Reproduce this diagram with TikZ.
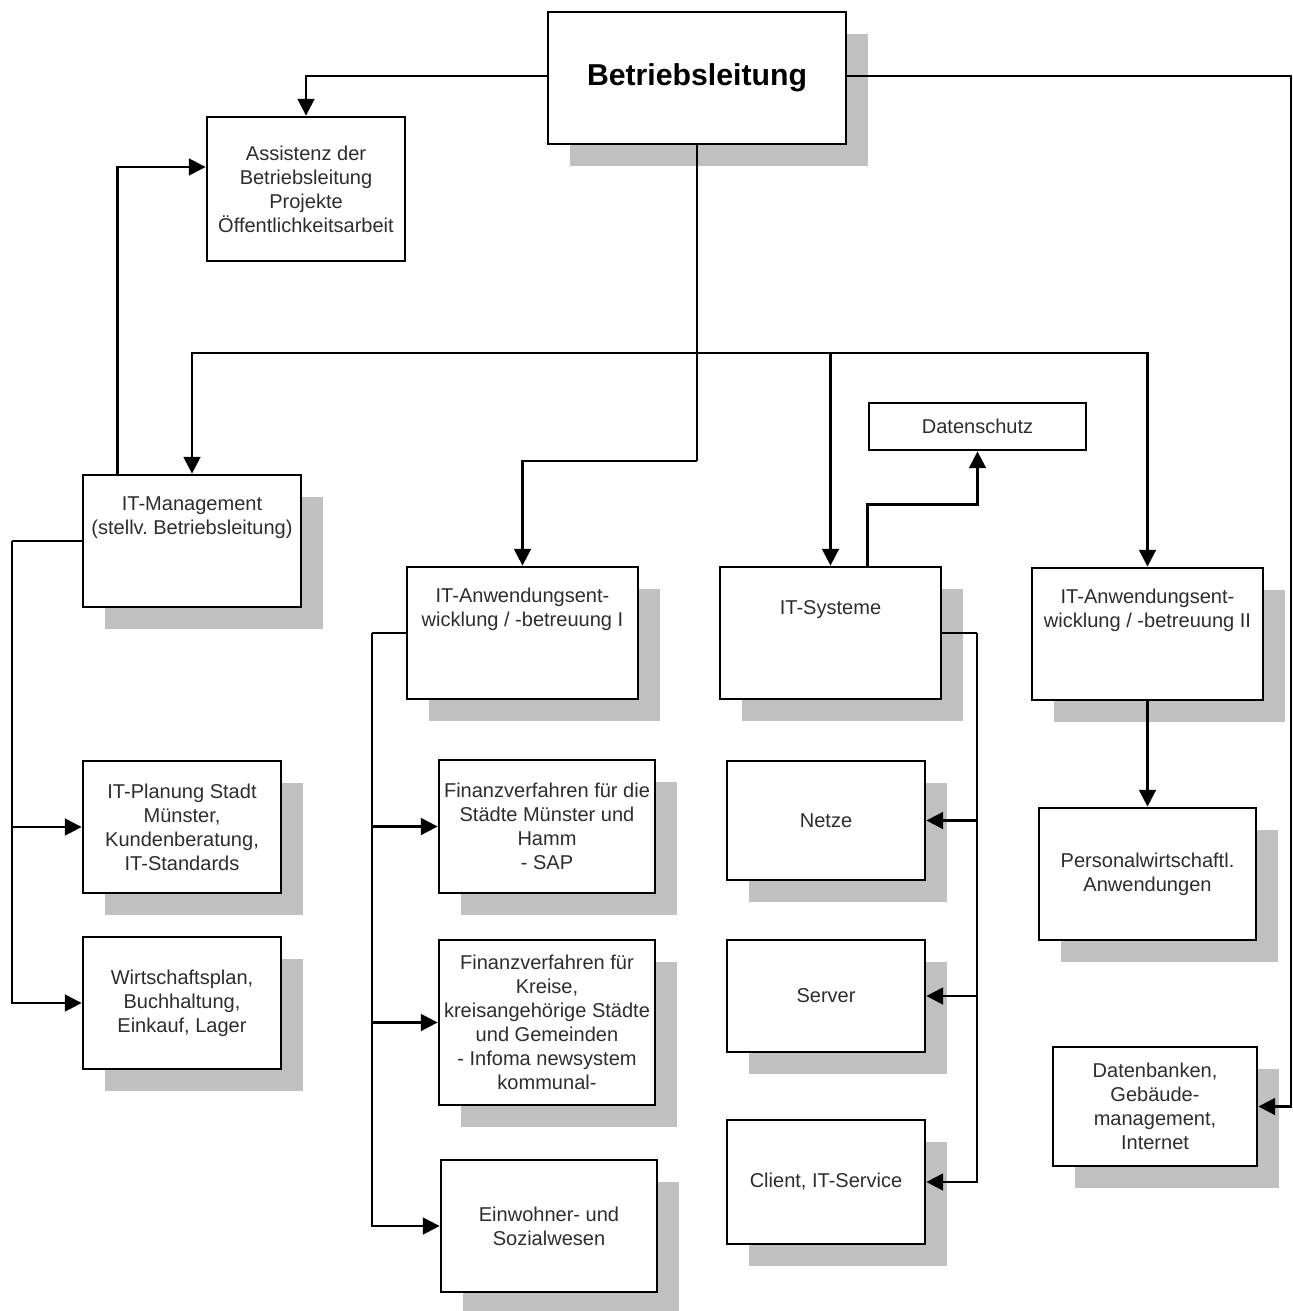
\documentclass[tikz,border=0pt]{standalone}
\usepackage{fontspec}
\setmainfont{Liberation Sans}
\frenchspacing
\usetikzlibrary{arrows.meta, positioning, calc, shadows}
\definecolor{shadowgray}{RGB}{192, 192, 192}
\definecolor{textgray}{RGB}{45, 45, 45}
\tikzset{
  unit/.style={draw, line width=1.6pt, fill=white, align=center, text=textgray, font=\fontsize{11.4}{13.7}\selectfont, inner sep=2pt},
  shadowunit/.style={unit, drop shadow={shadow xshift=0.44cm, shadow yshift=-0.44cm, fill=shadowgray, opacity=1}},
  toplabel/.style={below=0.33cm, align=center, text=textgray, font=\fontsize{11.4}{13.7}\selectfont},
  conn/.style={line width=1.4pt},
  carrow/.style={conn, -{Triangle[length=9.5pt, width=9.5pt]}},
}

\begin{document}
\begin{tikzpicture}[x=0.02cm, y=-0.02cm]
  \useasboundingbox (0,0) rectangle (1293,1311);
  % top level
  \node[shadowunit, minimum width=5.96cm, minimum height=2.64cm, font=\fontsize{17.2}{20}\selectfont\bfseries, text=black] (bl) at (697,78) {Betriebsleitung};
  \node[unit, minimum width=3.96cm, minimum height=2.88cm] (ass) at (306,189) {Assistenz der\\Betriebsleitung\\Projekte\\Öffentlichkeitsarbeit};
  % departments
  \node[shadowunit, minimum width=4.36cm, minimum height=2.64cm, label={[toplabel]north:{IT-Management\\(stellv. Betriebsleitung)}}] (itm) at (192,541) {};
  \node[shadowunit, minimum width=4.62cm, minimum height=2.64cm, label={[toplabel]north:{IT-Anwendungsent-\\wicklung / -betreuung I}}] (anw1) at (522.5,633) {};
  \node[shadowunit, minimum width=4.42cm, minimum height=2.64cm, label={[toplabel, below=0.58cm]north:{IT-Systeme}}] (sys) at (830.5,633) {};
  \node[shadowunit, minimum width=4.62cm, minimum height=2.64cm, label={[toplabel]north:{IT-Anwendungsent-\\wicklung / -betreuung II}}] (anw2) at (1147.5,634) {};
  \node[unit, minimum width=4.34cm, minimum height=0.94cm] (ds) at (977.5,426.5) {Datenschutz};
  % IT-Management
  \node[shadowunit, minimum width=3.96cm, minimum height=2.64cm] (plan) at (182,827) {IT-Planung Stadt\\Münster,\\Kundenberatung,\\IT-Standards};
  \node[shadowunit, minimum width=3.96cm, minimum height=2.64cm] (wp) at (182,1003) {Wirtschaftsplan,\\Buchhaltung,\\Einkauf, Lager};
  % Anwendungen I
  \node[shadowunit, minimum width=4.32cm, minimum height=2.66cm] (finm) at (547,826.5) {Finanzverfahren für die\\Städte Münster und\\Hamm\\- SAP};
  \node[shadowunit, minimum width=4.32cm, minimum height=3.3cm] (fink) at (547,1022.5) {Finanzverfahren für\\Kreise,\\kreisangehörige Städte\\und Gemeinden\\- Infoma newsystem\\kommunal-};
  \node[shadowunit, minimum width=4.32cm, minimum height=2.64cm] (ew) at (549,1226) {Einwohner- und\\Sozialwesen};
  % Systeme
  \node[shadowunit, minimum width=3.96cm, minimum height=2.38cm] (net) at (826,820.5) {Netze};
  \node[shadowunit, minimum width=3.96cm, minimum height=2.24cm] (srv) at (826,996) {Server};
  \node[shadowunit, minimum width=3.96cm, minimum height=2.48cm] (cl) at (826,1182) {Client, IT-Service};
  % Anwendungen II
  \node[shadowunit, minimum width=4.34cm, minimum height=2.64cm] (pw) at (1147.5,874) {Personalwirtschaftl.\\Anwendungen};
  \node[shadowunit, minimum width=4.08cm, minimum height=2.38cm] (db) at (1155,1106.5) {Datenbanken,\\Gebäude-\\management,\\Internet};

  % connectors
  \coordinate (top) at (697,353);
  \coordinate (mid) at (697,461);
  \coordinate (rbus) at (1291,76);
  \coordinate (lbus) at (12,541);
  \coordinate (abus) at (372,633);
  \coordinate (sbus) at (977,633);
  \draw[carrow] (bl.west |- rbus) -| (ass.north);
  \draw[carrow] (bl.east |- rbus) -- (rbus) |- (db.east);
  \draw[conn] (bl.south) -- (mid);
  \foreach \n in {itm, sys, anw2} \draw[carrow] (top) -| (\n.north);
  \draw[carrow] (mid) -| (anw1.north);
  \draw[carrow] ([xshift=0.72cm]itm.north west) |- ([yshift=0.44cm]ass.west);
  \draw[conn] (itm.west) -- (lbus);
  \foreach \n in {plan, wp} \draw[carrow] (lbus) |- (\n.west);
  \draw[conn] (anw1.west) -- (abus);
  \foreach \n in {finm, fink, ew} \draw[carrow] (abus) |- (\n.west);
  \draw[conn] (sys.east) -- (sbus);
  \foreach \n in {net, srv, cl} \draw[carrow] (sbus) |- (\n.east);
  \draw[carrow] ([xshift=2.98cm]sys.north west) -- ++(0,1.22cm) -| (ds.south);
  \draw[carrow] (anw2.south) -- (pw.north);
\end{tikzpicture}
\end{document}
